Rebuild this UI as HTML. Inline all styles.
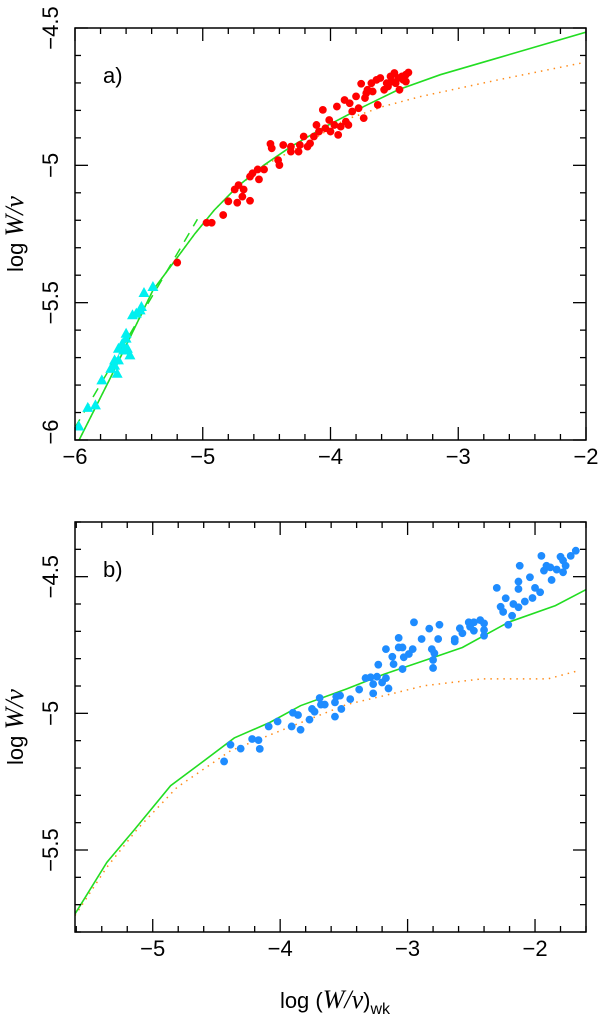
<!DOCTYPE html>
<html><head><meta charset="utf-8"><style>
html,body{margin:0;padding:0;background:#fff;}
svg{display:block;font-family:"Liberation Sans",sans-serif;}
</style></head><body>
<svg id="chart" width="602" height="1025" viewBox="0 0 602 1025" xmlns="http://www.w3.org/2000/svg"></svg>
<script>
// Panel a data
const redX=[-5.20,-4.97,-4.93,-4.84,-4.80,-4.75,-4.73,-4.72,-4.69,-4.68,-4.63,-4.63,-4.61,-4.57,-4.56,-4.52,-4.47,-4.46,-4.41,-4.40,-4.37,-4.31,-4.31,-4.25,-4.24,-4.21,-4.18,-4.16,-4.13,-4.11,-4.09,-4.06,-4.04,-4.01,-4.00,-3.97,-3.95,-3.94,-3.92,-3.89,-3.88,-3.86,-3.85,-3.83,-3.80,-3.78,-3.76,-3.74,-3.73,-3.72,-3.71,-3.68,-3.67,-3.64,-3.63,-3.61,-3.58,-3.56,-3.55,-3.53,-3.52,-3.50,-3.49,-3.47,-3.46,-3.44,-3.43,-3.41,-3.39,-3.41];
const redY=[-5.354,-5.209,-5.209,-5.181,-5.131,-5.088,-5.136,-5.072,-5.114,-5.088,-5.129,-5.041,-5.029,-5.015,-5.051,-5.015,-4.922,-4.938,-4.981,-4.999,-4.926,-4.950,-4.932,-4.950,-4.926,-4.895,-4.932,-4.920,-4.895,-4.853,-4.877,-4.798,-4.865,-4.835,-4.877,-4.853,-4.786,-4.889,-4.859,-4.762,-4.841,-4.853,-4.774,-4.804,-4.749,-4.792,-4.703,-4.828,-4.755,-4.737,-4.725,-4.701,-4.731,-4.689,-4.780,-4.682,-4.725,-4.701,-4.713,-4.676,-4.695,-4.664,-4.701,-4.682,-4.725,-4.676,-4.689,-4.670,-4.662,-4.695];
const cyanX=[-5.97,-5.90,-5.84,-5.79,-5.72,-5.69,-5.67,-5.66,-5.63,-5.62,-5.60,-5.59,-5.57,-5.60,-5.55,-5.52,-5.49,-5.48,-5.46,-5.39,-5.66,-5.69];
const cyanY=[-5.951,-5.883,-5.874,-5.783,-5.741,-5.710,-5.759,-5.668,-5.650,-5.674,-5.631,-5.668,-5.692,-5.613,-5.546,-5.540,-5.528,-5.516,-5.465,-5.443,-5.710,-5.729];
const greenAX=[-5.97,-5.72,-5.39,-5.06,-4.91,-4.73,-4.52,-4.31,-4.04,-3.74,-3.47,-3.14,-2.69,-2.0];
const greenAY=[-6.002,-5.771,-5.455,-5.248,-5.163,-5.078,-4.999,-4.932,-4.859,-4.786,-4.725,-4.670,-4.609,-4.515];
const dashAX=[-5.99,-5.03];
const dashAY=[-5.96,-5.20];
const orangeAX=[-5.97,-5.72,-5.39,-5.06,-4.91,-4.73,-4.49,-4.19,-3.89,-3.59,-3.29,-2.69,-2.02];
const orangeAY=[-6.002,-5.771,-5.455,-5.248,-5.163,-5.078,-4.993,-4.92,-4.835,-4.786,-4.749,-4.689,-4.626];
// Panel b data
const blueX=[-4.44,-4.39,-4.31,-4.22,-4.17,-4.16,-4.09,-4.02,-3.91,-3.90,-3.86,-3.84,-3.77,-3.75,-3.73,-3.69,-3.68,-3.65,-3.57,-3.57,-3.56,-3.53,-3.52,-3.45,-3.38,-3.33,-3.29,-3.27,-3.27,-3.24,-3.20,-3.17,-3.15,-3.23,-3.17,-3.12,-3.11,-3.07,-3.07,-3.04,-3.04,-3.03,-2.99,-2.96,-2.95,-2.89,-2.83,-2.81,-2.80,-2.80,-2.79,-2.76,-2.75,-2.63,-2.63,-2.59,-2.57,-2.52,-2.51,-2.48,-2.48,-2.43,-2.40,-2.40,-2.40,-2.30,-2.27,-2.25,-2.23,-2.21,-2.18,-2.17,-2.13,-2.13,-2.13,-2.12,-2.08,-2.04,-2.02,-2.00,-1.96,-1.95,-1.93,-1.91,-1.88,-1.87,-1.83,-1.80,-1.78,-1.78,-1.76,-1.72,-1.68];
const blueY=[-5.176,-5.115,-5.129,-5.094,-5.098,-5.130,-5.048,-5.030,-5.048,-4.998,-5.006,-5.060,-5.023,-4.984,-4.994,-4.944,-4.968,-4.968,-5.012,-4.960,-4.939,-4.935,-4.984,-4.948,-4.913,-4.871,-4.868,-4.893,-4.927,-4.866,-4.887,-4.871,-4.909,-4.822,-4.765,-4.793,-4.820,-4.724,-4.759,-4.759,-4.838,-4.795,-4.783,-4.765,-4.667,-4.728,-4.690,-4.765,-4.805,-4.834,-4.780,-4.728,-4.676,-4.728,-4.737,-4.689,-4.707,-4.667,-4.683,-4.667,-4.698,-4.659,-4.671,-4.695,-4.716,-4.541,-4.610,-4.629,-4.579,-4.676,-4.643,-4.600,-4.612,-4.518,-4.545,-4.460,-4.591,-4.502,-4.578,-4.541,-4.557,-4.424,-4.478,-4.460,-4.466,-4.512,-4.474,-4.427,-4.441,-4.484,-4.460,-4.424,-4.405];
const greenBX=[-5.61,-5.36,-5.15,-4.86,-4.63,-4.36,-4.08,-3.84,-3.48,-3.18,-2.87,-2.57,-2.21,-1.84,-1.59];
const greenBY=[-5.734,-5.545,-5.429,-5.265,-5.185,-5.090,-5.033,-4.972,-4.911,-4.856,-4.807,-4.759,-4.667,-4.606,-4.545];
const orangeBX=[-5.61,-5.36,-5.12,-4.81,-4.39,-3.93,-3.48,-3.18,-2.87,-2.42,-1.90,-1.66];
const orangeBY=[-5.740,-5.563,-5.423,-5.271,-5.137,-5.051,-4.968,-4.935,-4.899,-4.874,-4.874,-4.844];
const xTicksA=[-6,-5,-4,-3,-2];
const yTicksA=[-6,-5.5,-5,-4.5];
const xTicksB=[-5,-4,-3,-2];
const yTicksB=[-5.5,-5,-4.5];

const NS="http://www.w3.org/2000/svg";
const svg=document.getElementById('chart');
function mk(tag,attrs,parent){const e=document.createElementNS(NS,tag);for(const k in attrs)e.setAttribute(k,attrs[k]);(parent||svg).appendChild(e);return e;}
const fmt=v=>(v<0?'\u2212':'')+String(Math.abs(v));

function panel(P){
  const g=mk('g',{});
  
  
  const sx=v=>P.L+(v-P.x0)/(P.x1-P.x0)*(P.R-P.L);
  const sy=v=>P.B-(v-P.y0)/(P.y1-P.y0)*(P.B-P.T);
  const cp=mk('clipPath',{id:'c'+P.name},g);
  mk('rect',{x:P.L,y:P.T,width:P.R-P.L,height:P.B-P.T},cp);
  const inner=mk('g',{'clip-path':'url(#c'+P.name+')'},g);
  const tg=mk('g',{stroke:'#000','stroke-width':1.3},g);
  
  
  for(let i=Math.ceil(P.x0*5-1e-6);i<=Math.floor(P.x1*5+1e-6);i++){
    const v=i/5,x=sx(v),len=(Math.abs(v-Math.round(v))<1e-6)?13:6;
    mk('line',{x1:x,y1:P.B,x2:x,y2:P.B-len},tg);
    mk('line',{x1:x,y1:P.T,x2:x,y2:P.T+len},tg);
  }
  for(let i=Math.ceil(P.y0*10-1e-6);i<=Math.floor(P.y1*10+1e-6);i++){
    const v=i/10,y=sy(v),len=(Math.abs(v*2-Math.round(v*2))<1e-6)?13:6;
    mk('line',{x1:P.L,y1:y,x2:P.L+len,y2:y},tg);
    mk('line',{x1:P.R,y1:y,x2:P.R-len,y2:y},tg);
  }
  mk('rect',{x:P.L,y:P.T,width:P.R-P.L,height:P.B-P.T,fill:'none',stroke:'#000','stroke-width':1.5},g);
  P.xt.forEach(v=>{
    const t=mk('text',{x:sx(v),y:P.B+24,'font-size':22,'text-anchor':'middle'},g);
    
    
    t.textContent=fmt(v);
  });
  P.yt.forEach(v=>{
    let y=sy(v);
    if(y<P.T+5) y=Math.max(y,17); if(y>P.B-3) y=y-8;
    const t=mk('text',{x:0,y:0,'font-size':22,'text-anchor':'middle',transform:`translate(58,${y}) rotate(-90)`},g);
    
    
    t.textContent=fmt(v);
  });
  const yl=mk('text',{x:0,y:0,'font-size':22,'text-anchor':'middle',transform:`translate(23,${(P.T+P.B)/2}) rotate(-90)`},g);
  
  
  yl.innerHTML='log  <tspan font-family="Liberation Serif" font-style="italic" font-size="26">W/\u03BD</tspan>';
  const pl=mk('text',{x:P.L+28,y:P.T+55,'font-size':22},g);
  
  
  pl.textContent=P.label;
  P.lines.forEach(Ln=>{
    const pts=Ln.x.map((v,i)=>sx(v)+','+sy(Ln.y[i])).join(' ');
    const pl2=mk('polyline',Object.assign({points:pts,fill:'none'},Ln.style),inner);
    
    
  });
  P.pts.forEach(S=>{
    S.x.forEach((v,i)=>{
      const cx=sx(v),cy=sy(S.y[i]);let e;
      if(S.tri){e=mk('polygon',{points:`${cx},${cy-6} ${cx-5.5},${cy+4} ${cx+5.5},${cy+4}`,fill:S.color},inner);}
      else{e=mk('circle',{cx:cx,cy:cy,r:3.9,fill:S.color},inner);}
      
      
    });
  });
}
panel({name:'panel-a',L:75,R:586,T:28,B:440,x0:-6,x1:-2,y0:-6,y1:-4.5,xt:xTicksA,yt:yTicksA,label:'a)',
  lines:[{name:'orange-dotted-line',x:orangeAX,y:orangeAY,style:{stroke:'#ff8c1a','stroke-width':1.5,'stroke-dasharray':'1.5 5'}},
         {name:'green-dashed-line',x:dashAX,y:dashAY,style:{stroke:'#22dd22','stroke-width':1.5,'stroke-dasharray':'10 8',transform:'translate(-1.5,-1)'}},
         {name:'green-model-line',x:greenAX,y:greenAY,style:{stroke:'#22dd22','stroke-width':1.6}}],
  pts:[{name:'cyan-triangle',x:cyanX,y:cyanY,color:'#00f0f0',tri:true},{name:'red-point',x:redX,y:redY,color:'#ff0000'}]});
panel({name:'panel-b',L:75,R:586,T:522,B:932,x0:-5.61,x1:-1.6,y0:-5.80,y1:-4.30,xt:xTicksB,yt:yTicksB,label:'b)',
  lines:[{name:'orange-dotted-line',x:orangeBX,y:orangeBY,style:{stroke:'#ff8c1a','stroke-width':1.5,'stroke-dasharray':'1.5 5'}},
         {name:'green-model-line',x:greenBX,y:greenBY,style:{stroke:'#22dd22','stroke-width':1.6}}],
  pts:[{name:'blue-point',x:blueX,y:blueY,color:'#1e8cff'}]});
const xt=mk('text',{x:335,y:1008,'font-size':22,'text-anchor':'middle'});


xt.innerHTML='log  (<tspan font-family="Liberation Serif" font-style="italic" font-size="26">W/\u03BD</tspan>)<tspan font-size="16" dy="6">wk</tspan>';
</script>
</body></html>
